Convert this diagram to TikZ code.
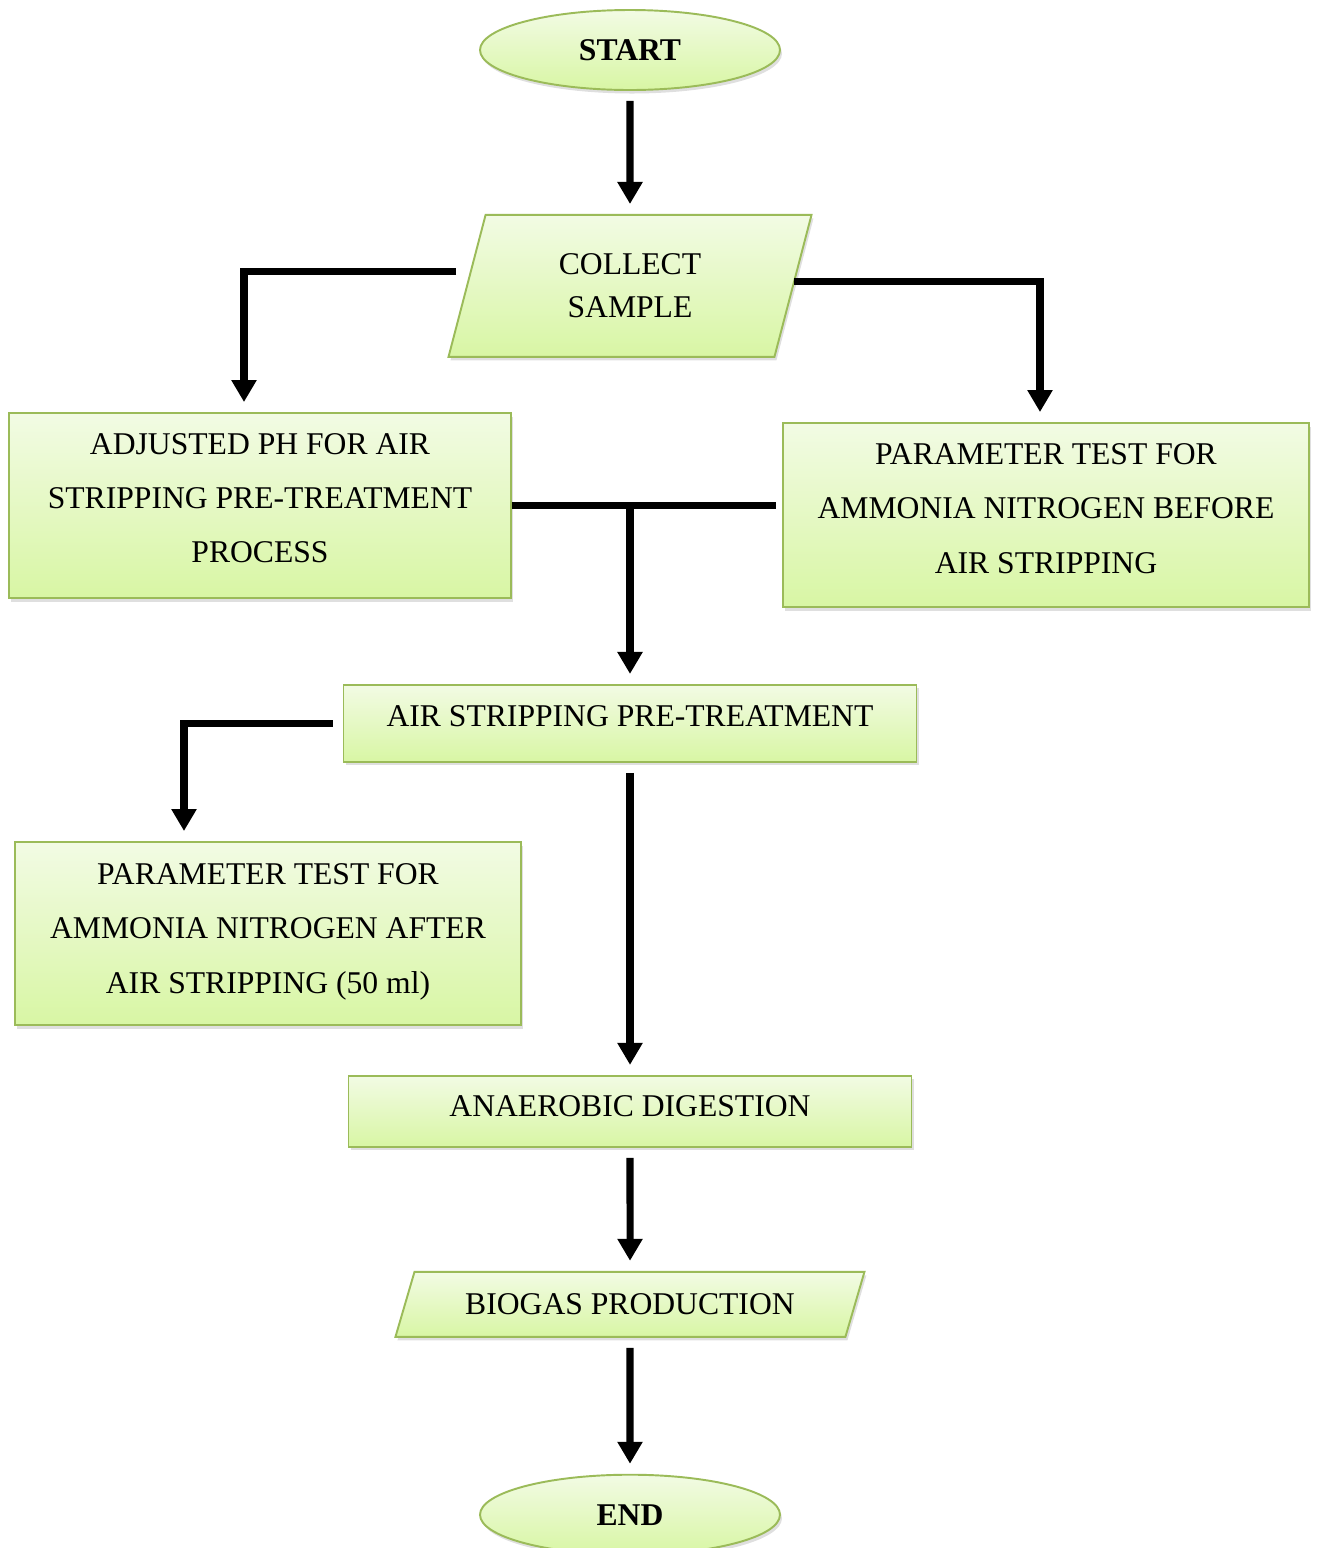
\documentclass[tikz,border=0pt]{standalone}
\usepackage{fontspec}
\setmainfont{Liberation Serif}
\usetikzlibrary{shapes.geometric, arrows.meta, positioning, shadows}
\definecolor{leafgreen}{RGB}{155,187,89}
\definecolor{palegreen}{RGB}{242,251,228}
\definecolor{limegreen}{RGB}{216,246,164}

\begin{document}
\begin{tikzpicture}[
        every node/.style={font=\fontsize{18}{31}\selectfont},
        greenfill/.style={draw=leafgreen, line width=1.1pt, top color=palegreen, bottom color=limegreen, drop shadow={opacity=0.25, shadow xshift=0.04cm, shadow yshift=-0.07cm}},
        terminal/.style={greenfill, ellipse, minimum width=6cm, minimum height=1.6cm, font=\fontsize{18}{22}\selectfont\bfseries},
        process/.style={greenfill, rectangle, align=center},
        iobox/.style={greenfill, trapezium, trapezium stretches body, align=center},
        arrow/.style={-{Triangle[length=0.44cm, width=0.48cm]}, line width=4pt, black, shorten <=0.2cm, shorten >=0.2cm},
        joint/.style={line width=4pt, black}
    ]
        \useasboundingbox (0,0) rectangle (26.34,-30.96);

        \node[terminal] (start) at (12.6,-1.0) {START};
        \node[iobox, trapezium left angle=64, trapezium right angle=116, minimum width=7.26cm, minimum height=2.84cm, font=\fontsize{18}{24.5}\selectfont, below=2.46cm of start] (collect) {COLLECT\\SAMPLE};
        \node[process, minimum width=10.04cm, minimum height=3.7cm, text depth=0.3cm] (adjust) at (5.2,-10.11) {ADJUSTED PH FOR AIR\\STRIPPING PRE-TREATMENT\\PROCESS};
        \node[process, minimum width=10.52cm, minimum height=3.68cm, text depth=0.26cm] (before) at (20.92,-10.3) {PARAMETER TEST FOR\\AMMONIA NITROGEN BEFORE\\AIR STRIPPING};
        \node[process, minimum width=11.46cm, minimum height=1.54cm, text depth=0.3cm, below=6.52cm of collect] (strip) {AIR STRIPPING PRE-TREATMENT};
        \node[process, minimum width=10.12cm, minimum height=3.66cm, text depth=0.2cm] (after) at (5.36,-18.67) {PARAMETER TEST FOR\\AMMONIA NITROGEN AFTER\\AIR STRIPPING (50 ml)};
        \node[process, minimum width=11.26cm, minimum height=1.42cm, text depth=0.22cm, below=6.24cm of strip] (digest) {ANAEROBIC DIGESTION};
        \node[iobox, trapezium left angle=60, trapezium right angle=120, minimum width=9.38cm, minimum height=1.3cm, below=2.46cm of digest] (biogas) {BIOGAS PRODUCTION};
        \node[terminal, below=2.72cm of biogas] (end) {END};

        \draw[arrow] (start) -- (collect);
        \draw[arrow] ([yshift=0.28cm]collect.west) -| ([xshift=-0.32cm]adjust.north);
        \draw[arrow, shorten <=0pt] ([yshift=0.08cm]collect.east) -| ([xshift=-0.12cm]before.north);

        \coordinate (join) at (adjust.east -| strip.north);
        \draw[joint] (adjust.east) -- ([xshift=-0.12cm]adjust.east -| before.west);
        \draw[arrow, shorten <=0pt] (join) -- (strip.north);

        \draw[arrow] (strip.west) -| ([xshift=-1.68cm]after.north);
        \draw[arrow] (strip) -- (digest);
        \draw[arrow] (digest) -- (biogas);
        \draw[arrow] (biogas) -- (end);
    \end{tikzpicture}
\end{document}
